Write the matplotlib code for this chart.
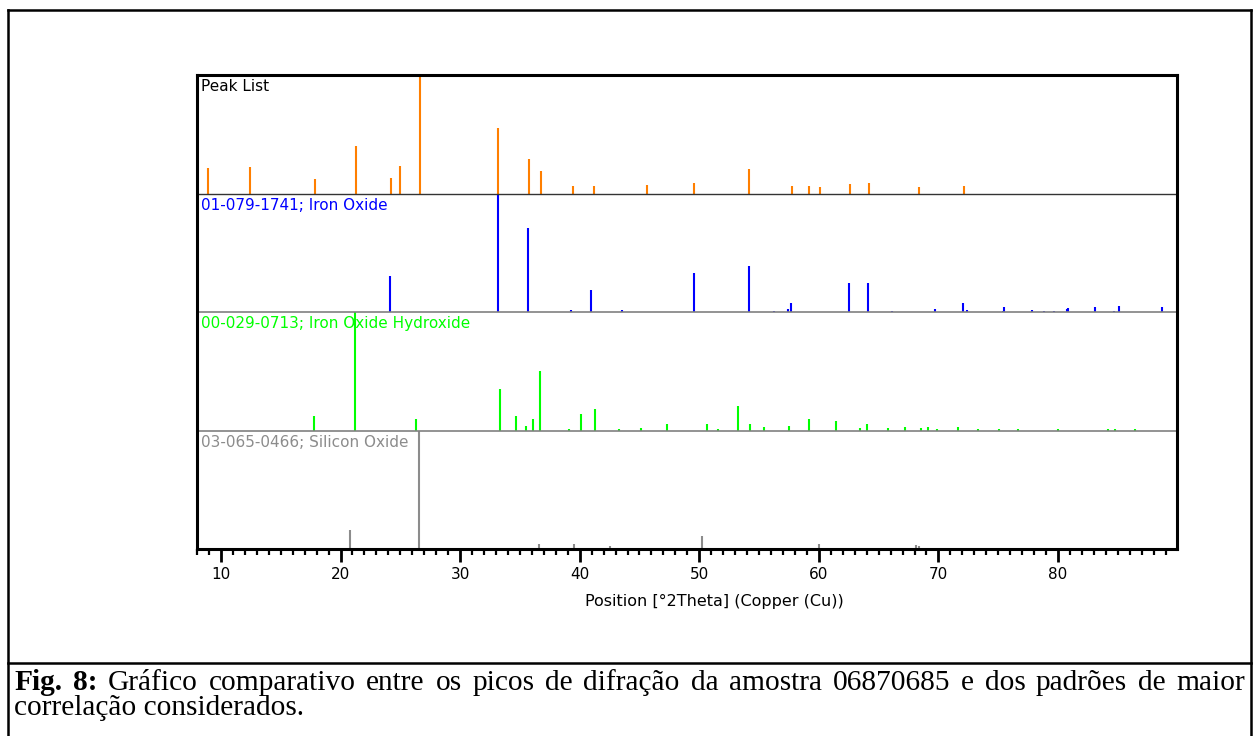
import matplotlib.pyplot as plt
import numpy as np
from matplotlib.lines import Line2D
from matplotlib.ticker import MultipleLocator

# peak positions (2theta) and relative intensities (%)
peak_pos = [8.94, 12.43, 17.85, 21.28, 24.24, 24.97, 26.67, 33.2, 35.74, 36.78,
            39.46, 41.16, 45.6, 49.59, 54.14, 57.74, 59.14, 60.08, 62.62, 64.19,
            68.35, 72.12]
peak_int = [21.5, 22.3, 12.6, 39.7, 13.5, 23, 100, 55, 28.9, 19.3,
            6.4, 6.4, 7.4, 9.1, 20.7, 6.4, 6.4, 5.5, 8.3, 9.1,
            5.5, 6.4]

fe2o3_pos = [24.15, 33.2, 35.69, 39.29, 40.96, 43.56, 49.56, 54.14, 56.29, 57.46,
             57.63, 62.52, 64.1, 66.14, 69.69, 72.03, 72.4, 75.37, 75.51, 77.8,
             78.86, 79.65, 80.74, 80.82, 83.08, 84.65, 85.1, 88.67]
fe2o3_int = [30.8, 100, 71.2, 1.5, 18.8, 1.5, 32.8, 38.7, 1, 2.3,
             7.4, 24.2, 24.2, 1, 2.3, 7.4, 1.4, 1, 4.6, 1.4,
             1, 1, 2.3, 3.1, 4, 1, 5.4, 4.6]

feooh_pos = [17.79, 21.2, 26.33, 33.31, 34.68, 35.52, 36.1, 36.69, 39.09, 40.07,
             41.24, 43.31, 45.12, 47.33, 50.68, 51.54, 53.27, 54.28, 55.39, 57.49,
             59.16, 61.42, 63.43, 64.0, 65.75, 67.2, 68.54, 69.13, 69.88, 71.67,
             73.32, 75.1, 76.67, 79.98, 84.17, 84.75, 86.46]
feooh_int = [12.1, 100, 9.9, 35.2, 12.1, 3.9, 9.9, 50.4, 1, 14.1,
             18.3, 1, 2.3, 5.4, 5.9, 1, 20.3, 5.9, 2.8, 3.7,
             9.6, 8.2, 2, 5.1, 2, 2.8, 2, 2.8, 1, 2.8,
             1, 1, 1, 1, 1, 1, 1]

sio2_pos = [20.83, 26.58, 36.57, 39.56, 40.34, 42.5, 45.87, 50.23, 54.92, 55.28,
            60.02, 64.16, 65.88, 67.79, 68.15, 68.37, 73.57, 80.04, 81.25, 81.66,
            83.89, 87.53]
sio2_int = [16, 100, 4, 4, 1, 2.3, 1, 10.9, 1, 1,
            4, 1, 1, 1, 3, 2.9, 1, 1, 1, 1,
            1, 1]

labels = ['Peak List', '01-079-1741; Iron Oxide',
          '00-029-0713; Iron Oxide Hydroxide', '03-065-0466; Silicon Oxide']
colors = ['#FF7F00', '#0000FF', '#00FF00', '#8C8C8C']
text_colors = ['black', '#0000FF', '#00FF00', '#8C8C8C']
series = [(peak_pos, peak_int), (fe2o3_pos, fe2o3_int),
          (feooh_pos, feooh_int), (sio2_pos, sio2_int)]

W, H = 1254, 736
fig = plt.figure(figsize=(W / 100, H / 100), dpi=100)
ax = fig.add_axes([197 / W, 1 - 549 / H, (1177 - 197) / W, (549 - 75) / H])

for i, (pos, inten) in enumerate(series):
    base = 3 - i
    ax.vlines(pos, base, base + np.array(inten) / 100.0, colors=colors[i], lw=1.5)
    ax.text(8.3, base + 0.965, labels[i], color=text_colors[i], fontsize=11,
            va='top', ha='left')

ax.axhline(3, color='#333333', lw=1.0)
ax.axhline(2, color='#808080', lw=1.2)
ax.axhline(1, color='#808080', lw=1.2)

ax.set_xlim(8, 89.95)
ax.set_ylim(0, 4)
ax.set_yticks([])
ax.xaxis.set_major_locator(MultipleLocator(10))
ax.xaxis.set_minor_locator(MultipleLocator(1))
ax.tick_params(axis='x', which='major', length=9, width=2, direction='out',
               labelsize=11, pad=4)
ax.tick_params(axis='x', which='minor', length=4, width=1.6, direction='out')
for s in ax.spines.values():
    s.set_linewidth(2.2)
ax.set_xlabel('Position [°2Theta] (Copper (Cu))', fontsize=11.5, labelpad=9)
ax.xaxis.set_label_coords(0.5276, -0.095)

# frame around figure and caption
def px_line(x0, y0, x1, y1, lw=1.8):
    fig.add_artist(Line2D([x0 / W, x1 / W], [1 - y0 / H, 1 - y1 / H],
                          color='black', lw=lw, transform=fig.transFigure))

px_line(8, 10, 1251, 10)
px_line(8, 10, 8, 736)
px_line(1251, 10, 1251, 736)
px_line(8, 663, 1251, 663)

# caption, first line justified
cap_font = 'Liberation Serif'
cap_size = 21.2
words = [('Fig.', 'bold'), ('8:', 'bold')] + [(w, 'normal') for w in
         'Gráfico comparativo entre os picos de difração da amostra 06870685 e dos padrões de maior'.split()]
fig.canvas.draw()
rend = fig.canvas.get_renderer()
txts = []
for w, wt in words:
    t = fig.text(0, 1 - 690 / H, w, fontsize=cap_size, family=cap_font,
                 weight=wt, va='baseline', ha='left')
    txts.append(t)
widths = [t.get_window_extent(renderer=rend).width for t in txts]
x_start, x_end = 14, 1245
gap = (x_end - x_start - sum(widths)) / (len(words) - 1)
x = x_start
for t, wd in zip(txts, widths):
    t.set_x(x / W)
    x += wd + gap

fig.text(14 / W, 1 - 715 / H, 'correlação considerados.', fontsize=cap_size,
         family=cap_font, va='baseline', ha='left')

fig.savefig('out.png', dpi=100)
